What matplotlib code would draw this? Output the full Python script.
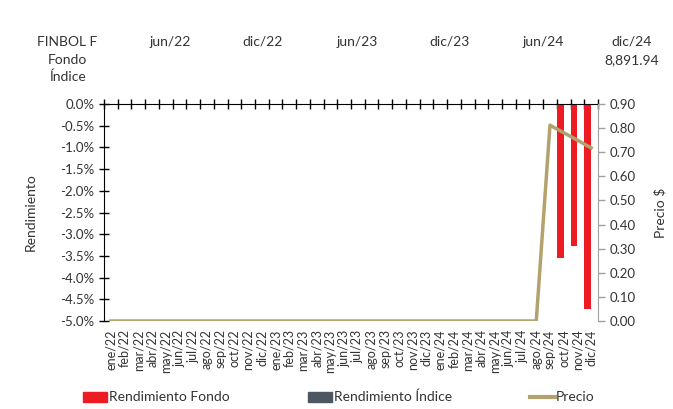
import matplotlib
matplotlib.use("Agg")
import matplotlib.pyplot as plt
import numpy as np
from matplotlib.patches import Patch
from matplotlib.lines import Line2D

plt.rcParams['font.family'] = ['Lato', 'DejaVu Sans']

months = ["ene", "feb", "mar", "abr", "may", "jun", "jul", "ago", "sep", "oct", "nov", "dic"]
categories = [f"{m}/{y}" for y in ["22", "23", "24"] for m in months]

rend_fondo = [0.0] * 33 + [-3.55, -3.28, -4.73]
rend_indice = [0.0] * 36
precio = [0.0] * 32 + [0.812, 0.781, 0.750, 0.718]

header_cols = ["jun/22", "dic/22", "jun/23", "dic/23", "jun/24", "dic/24"]
header_rows = ["FINBOL F", "Fondo", "Índice"]
header_last = "8,891.94"

RED = "#ED1C24"
GRAY = "#4D5761"
TAN = "#B3A26D"
TXT = "#333333"

fig = plt.figure(figsize=(6.73, 4.09), dpi=100)
ax = fig.add_axes([104/673, 1-321/409, 494/673, 217/409])
ax2 = ax.twinx()

x = np.arange(len(categories))
ax.bar(x - 0.25, rend_fondo, width=0.5, color=RED, zorder=2)
ax.bar(x + 0.25, rend_indice, width=0.5, color=GRAY, zorder=2)
ax2.plot(x, precio, color=TAN, lw=2.5, zorder=3)

ax.set_xlim(-0.5, len(categories) - 0.5)
ax.set_ylim(-5.0, 0.0)
ax.set_yticks(np.arange(-5.0, 0.01, 0.5))
ax.set_yticklabels([f"{v:.1f}%" for v in np.arange(-5.0, 0.01, 0.5)], color=TXT, fontsize=9.5)
ax2.set_ylim(0, 0.9)
ax2.set_yticks(np.arange(0, 0.91, 0.1))
ax2.set_yticklabels([f"{v:.2f}" for v in np.arange(0, 0.91, 0.1)], color=TXT, fontsize=9.5)

# x axis at top (y=0), labels at bottom
ax.set_xticks(x)
ax.set_xticklabels(categories, rotation=90, fontsize=9, color=TXT)
ax.tick_params(axis='x', which='major', length=0, pad=6)
ax.set_xticks(np.arange(-0.5, len(categories), 1), minor=True)
ax.tick_params(axis='x', which='minor', bottom=False, top=True, direction='inout', length=7, color='black', width=1)

ax.tick_params(axis='y', direction='inout', length=7, color='black', width=1)
ax2.tick_params(axis='y', direction='out', length=5, color='#A0A0A0', width=1)

for s in ['bottom', 'right']:
    ax.spines[s].set_visible(False)
ax.spines['top'].set_color('black')
ax.spines['left'].set_color('black')
for s in ['top', 'bottom', 'left']:
    ax2.spines[s].set_visible(False)
ax2.spines['right'].set_color('#A0A0A0')

ax.set_ylabel("Rendimiento", color=TXT, fontsize=10)
ax.yaxis.set_label_coords(-(104-37)/494, 0.5)
ax2.set_ylabel("Precio $", color=TXT, fontsize=10)
ax2.yaxis.set_label_coords(1 + (654-598)/494, 0.5)

# header table
fig.text(67/673, 1-42/409, header_rows[0], ha='center', va='center', fontsize=10, color=TXT)
fig.text(67/673, 1-60/409, header_rows[1], ha='center', va='center', fontsize=10, color=TXT)
fig.text(67/673, 1-77/409, header_rows[2], ha='center', va='center', fontsize=10, color=TXT)
hx = [170, 263, 357, 450, 543, 632]
for xi, lbl in zip(hx, header_cols):
    fig.text(xi/673, 1-42/409, lbl, ha='center', va='center', fontsize=10, color=TXT)
fig.text(632/673, 1-60/409, header_last, ha='center', va='center', fontsize=10, color=TXT)

# legend
handles = [Patch(color=RED), Patch(color=GRAY), Line2D([0], [0], color=TAN, lw=3)]
labels = ["Rendimiento Fondo", "Rendimiento Índice", "Precio"]
lx = [83, 308, 530]
for h, l, xi in zip(handles, labels, lx):
    if isinstance(h, Patch):
        fig.patches.append(plt.Rectangle((xi/673, 1-402/409), 24/673, 10/409, transform=fig.transFigure, color=h.get_facecolor()))
    else:
        fig.lines.append(Line2D([xi/673, (xi+25)/673], [1-397/409, 1-397/409], transform=fig.transFigure, color=TAN, lw=3))
    fig.text((xi+26)/673, 1-397/409, l, ha='left', va='center', fontsize=10, color=TXT)

fig.savefig("out.png", dpi=100)
